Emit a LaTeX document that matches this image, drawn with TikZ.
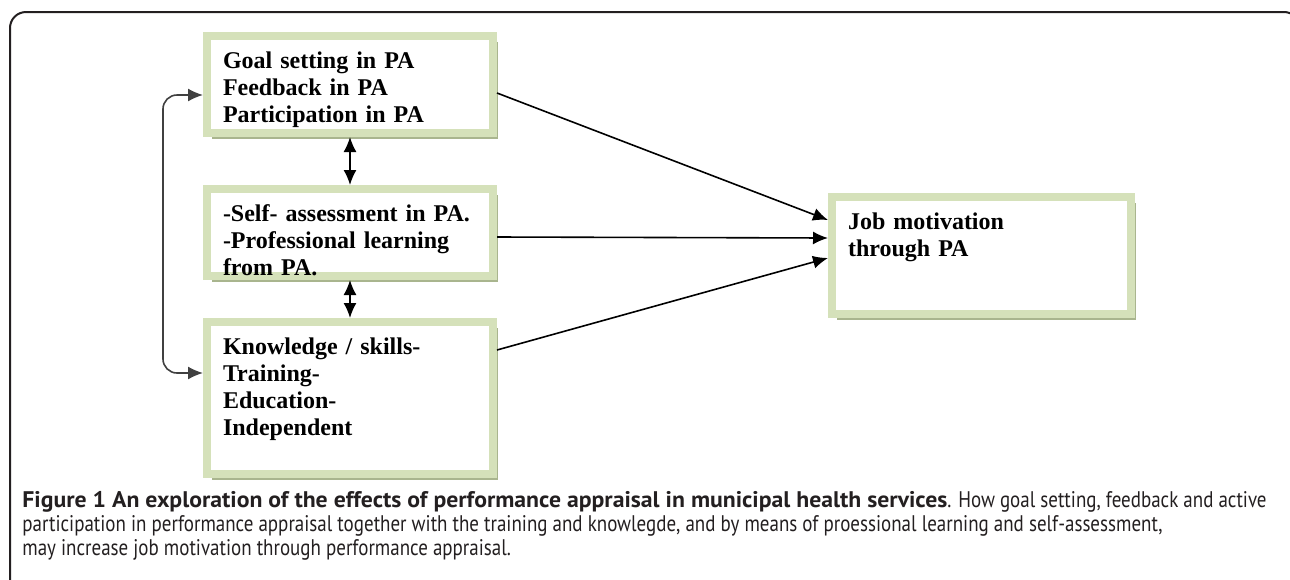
\documentclass[tikz,border=0pt]{standalone}
\usepackage{fontspec}
\setmainfont{Liberation Serif}
\newfontfamily\capfont[FakeStretch=0.84]{PT Sans}
\newfontfamily\capbold[FakeStretch=1.05]{PT Sans}
\usetikzlibrary{arrows.meta,shadows}
\definecolor{framecol}{HTML}{231F20}
\definecolor{boxgreen}{HTML}{D5E1BA}
\definecolor{boxshade}{HTML}{A9B58E}
\colorlet{loopcol}{black!75}

\begin{document}
\begin{tikzpicture}[x=0.5pt, y=-0.5pt,
	    pabox/.style={draw=boxgreen, line width=4pt, fill=white, anchor=north west,
	      inner xsep=8pt, inner ysep=7pt, text height=9pt, align=left,
	      font=\bfseries\fontsize{12}{13.5}\selectfont,
	      drop shadow={shadow xshift=2.5pt, shadow yshift=-3pt, fill=boxshade, opacity=1}},
	    link/.style={line width=0.8pt, -{Latex[length=7.5pt,width=6.5pt]}},
	    both/.style={line width=0.8pt, {Latex[length=7.5pt,width=6.5pt]}-{Latex[length=7.5pt,width=6.5pt]}}]
	    \useasboundingbox (0,0) rectangle (1290,579);

	    % frame, open at the bottom
	    \draw[framecol, line width=1pt, rounded corners=8pt] (10,600) -- (10,12) -- (1300,12) -- (1300,600);

		\node[pabox, text width=127pt, text depth=25.5pt] (goalbox) at (203,32) {Goal setting in PA\\Feedback in PA\\Participation in PA};
		\node[pabox, text width=127pt, text depth=20.5pt] (selfbox) at (203,185) {-Self- assessment in PA.\\-Professional learning\\from PA.};
		\node[pabox, text width=127pt, text depth=53pt] (skillsbox) at (203,318) {Knowledge / skills-\\Training-\\Education-\\Independent};
		\node[pabox, text width=133.5pt, text depth=35.5pt] (jobbox) at (828,193) {Job motivation\\through PA};

		\draw[link] ([yshift=-4.25pt]goalbox.east) -- ([yshift=17.75pt]jobbox.west);
		\draw[link] ([yshift=-2.25pt]selfbox.east) -- ([yshift=8.75pt]jobbox.west);
		\draw[link] ([yshift=24pt]skillsbox.east) -- ([yshift=-1.25pt]jobbox.west);
		\draw[both] (goalbox.south) -- (selfbox.north);
		\draw[both] (selfbox.south) -- (skillsbox.north);
		\draw[both, draw=loopcol, rounded corners=7pt] ([yshift=-5.25pt]goalbox.west) -- ++(-20pt,0) |- ([yshift=12.5pt]skillsbox.west); % loop on the left

		\node[anchor=north west, align=left, inner sep=0pt, text=framecol,
		  font=\capfont\fontsize{11.3}{12}\selectfont] (caption) at (22,491)
		  {{\capbold\bfseries Figure 1 An exploration of the effects of performance appraisal in municipal health services}. How goal setting, feedback and active\\
		   participation in performance appraisal together with the training and knowlegde, and by means of proessional learning and self-assessment,\\
		   may increase job motivation through performance appraisal.};

	  \end{tikzpicture}
\end{document}
